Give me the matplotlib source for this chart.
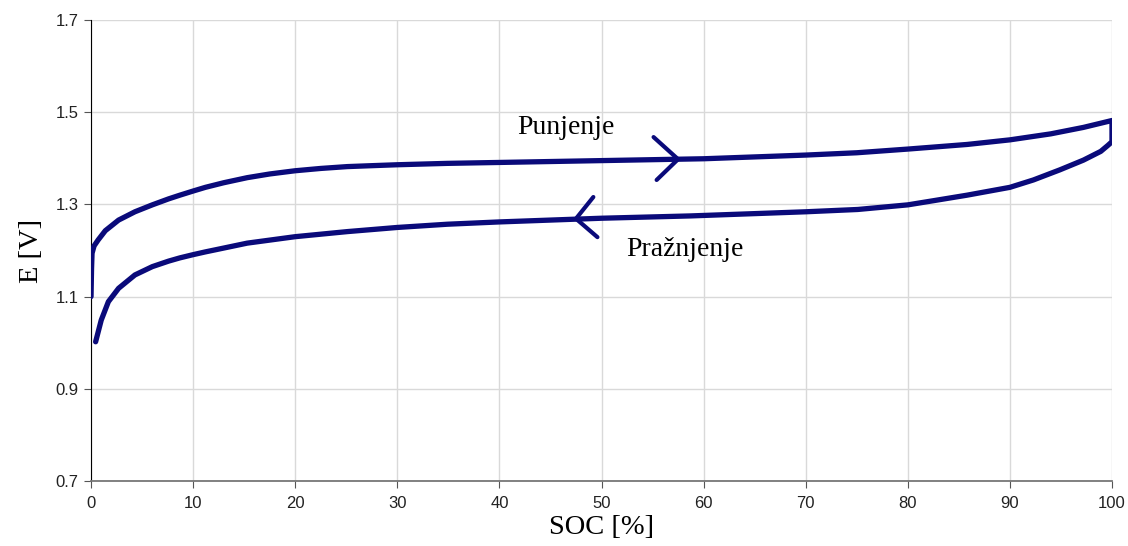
"""
Charge / discharge curve of a cell: E [V] vs SOC [%]
"""

import numpy as np
import matplotlib.pyplot as plt

# -----------------------------
# 1. Data
# -----------------------------
# charging (upper branch), left to right
charge_soc = [0.0, 0.05, 0.1, 0.3, 0.7, 1.4, 2.7, 4.3, 6.0, 7.6, 8.7, 10.0, 11.2, 13.0,
              15.3, 17.5, 20.0, 22.5, 25.1, 27.5, 30.0, 34.9, 40.0, 45.0, 50.0, 57.5,
              60.0, 65.0, 70.0, 75.0, 80.0, 85.8, 90.0, 94.0, 97.2, 100.0]
charge_e = [1.100, 1.160, 1.194, 1.210, 1.223, 1.243, 1.266, 1.284, 1.299, 1.312, 1.320,
            1.329, 1.337, 1.347, 1.358, 1.366, 1.373, 1.378, 1.382, 1.384, 1.386, 1.389,
            1.391, 1.393, 1.395, 1.398, 1.399, 1.403, 1.407, 1.412, 1.420, 1.430, 1.440,
            1.453, 1.467, 1.482]

# discharging (lower branch), right to left
discharge_soc = [100.0, 100.0, 99.6, 98.9, 97.2, 94.9, 92.3, 90.0, 85.8, 82.5, 80.0,
                 75.1, 70.0, 65.0, 58.7, 50.0, 47.5, 45.0, 40.0, 34.9, 30.0, 25.1,
                 20.0, 15.3, 12.5, 11.2, 10.0, 8.7, 7.6, 6.0, 4.3, 2.7, 1.7, 1.0, 0.45]
discharge_e = [1.482, 1.436, 1.428, 1.415, 1.396, 1.375, 1.353, 1.337, 1.320, 1.308,
               1.299, 1.289, 1.284, 1.280, 1.275, 1.270, 1.268, 1.266, 1.262, 1.257,
               1.250, 1.241, 1.230, 1.216, 1.203, 1.197, 1.191, 1.184, 1.177, 1.165,
               1.147, 1.118, 1.089, 1.049, 1.002]

# direction arrows (chevrons): arm end, tip, arm end
charge_arrow_soc = [55.1, 57.5, 55.4]
charge_arrow_e = [1.446, 1.398, 1.353]
discharge_arrow_soc = [49.2, 47.5, 49.6]
discharge_arrow_e = [1.316, 1.269, 1.229]

xticks = np.arange(0, 101, 10)
yticks = [0.7, 0.9, 1.1, 1.3, 1.5, 1.7]

LINE_COLOR = "#0a0a7a"

# -----------------------------
# 2. Plot
# -----------------------------
fig = plt.figure(figsize=(11.28, 5.46), dpi=100)
ax = fig.add_axes([0.0807, 0.119, 0.9051, 0.8444])

loop_soc = charge_soc + discharge_soc
loop_e = charge_e + discharge_e
ax.plot(loop_soc, loop_e, color=LINE_COLOR, linewidth=3.8,
        solid_capstyle="round", solid_joinstyle="round", zorder=3)

ax.plot(charge_arrow_soc, charge_arrow_e, color=LINE_COLOR, linewidth=3.0,
        solid_capstyle="round", solid_joinstyle="miter", zorder=3)
ax.plot(discharge_arrow_soc, discharge_arrow_e, color=LINE_COLOR, linewidth=3.0,
        solid_capstyle="round", solid_joinstyle="miter", zorder=3)

ax.text(46.5, 1.466, "Punjenje", family="Liberation Serif", fontsize=20,
        ha="center", va="center")
ax.text(58.2, 1.202, "Pražnjenje", family="Liberation Serif", fontsize=20,
        ha="center", va="center")

ax.set_xlim(0, 100)
ax.set_ylim(0.7, 1.7)
ax.set_xticks(xticks)
ax.set_yticks(yticks)
ax.set_xticklabels([str(t) for t in xticks], family="Liberation Sans", fontsize=12,
                   color="#222222")
ax.set_yticklabels([f"{t:.1f}" for t in yticks], family="Liberation Sans", fontsize=12,
                   color="#222222")

ax.grid(True, color="#d9d9d9", linewidth=1.0)
ax.set_axisbelow(True)

ax.spines["top"].set_visible(False)
ax.spines["right"].set_visible(False)
ax.spines["left"].set_color("#000000")
ax.spines["bottom"].set_color("#777777")
ax.spines["bottom"].set_linewidth(1.3)
ax.tick_params(axis="x", direction="out", length=5, color="#555555", pad=6)
ax.tick_params(axis="y", direction="out", length=5, color="#555555", pad=4)

ax.set_xlabel("SOC [%]", family="Liberation Serif", fontsize=20.5, labelpad=3)
ax.set_ylabel("E [V]", family="Liberation Serif", fontsize=20.5, labelpad=8)

plt.savefig("out.png", dpi=100)
